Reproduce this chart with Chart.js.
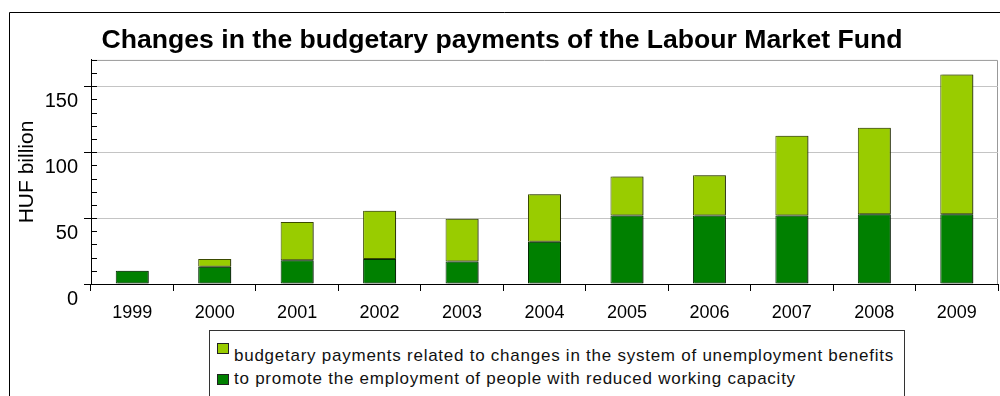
<!DOCTYPE html>
<html>
<head>
<meta charset="utf-8">
<title>Labour Market Fund</title>
<script src="https://cdn.jsdelivr.net/npm/chart.js@4/dist/chart.umd.min.js"></script>
<style>
  html, body { margin: 0; padding: 0; background: #fff; }
  #wrap { position: relative; width: 1000px; height: 396px; overflow: hidden; }
  #chart { position: absolute; left: 0; top: 0; }
  #legend {
    position: absolute; left: 209px; top: 330px; width: 694px; height: 120px;
    border: 1px solid #333; background: #fff;
    font-family: Arial, "Liberation Sans", sans-serif; font-size: 17px; letter-spacing: 0.75px; color: #111;
  }
  #legend .swatch { position: absolute; width: 10px; height: 9px; border: 1px solid #222; }
  #legend .label { position: absolute; left: 24px; white-space: nowrap; line-height: 17px; }
</style>
</head>
<body>
<div id="wrap">
  <canvas id="chart" width="1000" height="396"></canvas>
  <div id="legend"></div>
</div>
<script>
// ---- data -------------------------------------------------------------
const years = ['1999', '2000', '2001', '2002', '2003', '2004', '2005', '2006', '2007', '2008', '2009'];
// HUF billion
const reducedCapacity = [10, 13, 18, 19, 17, 32, 52, 52, 52, 53, 53];
const unemploymentBenefits = [0, 6, 29, 36.5, 32.5, 36, 29.5, 30.5, 60.5, 65.5, 106];
const yTickLabels = [0, 50, 100, 150];

const chartTitle = 'Changes in the budgetary payments of the Labour Market Fund';
const yAxisTitle = 'HUF billion';
const labelBenefits = 'budgetary payments related to changes in the system of unemployment benefits';
const labelCapacity = 'to promote the employment of people with reduced working capacity';

const FONT = 'Arial, "Liberation Sans", sans-serif';
const LIGHT = '#99cc00';
const DARK = '#008000';

// outer frame line (top + left) and plot box
const framePlugin = {
  id: 'frame',
  beforeDraw(chart) {
    const ctx = chart.ctx;
    ctx.save();
    ctx.strokeStyle = '#000';
    ctx.lineWidth = 1;
    ctx.beginPath();
    ctx.moveTo(9.5, 396);
    ctx.lineTo(9.5, 12.5);
    ctx.lineTo(1000, 12.5);
    ctx.stroke();
    const a = chart.chartArea;
    ctx.strokeStyle = '#999';
    ctx.beginPath();
    ctx.moveTo(a.left, a.top + 0.5);
    ctx.lineTo(a.right - 0.5, a.top + 0.5);
    ctx.lineTo(a.right - 0.5, a.bottom);
    ctx.stroke();
    ctx.restore();
  },
  // small inner ticks on the value axis, every 10
  afterDraw(chart) {
    const ctx = chart.ctx;
    const y = chart.scales.y;
    const left = chart.chartArea.left;
    ctx.save();
    ctx.strokeStyle = '#000';
    ctx.lineWidth = 1;
    ctx.beginPath();
    y.ticks.forEach(t => {
      const py = Math.round(y.getPixelForValue(t.value)) + 0.5;
      ctx.moveTo(left, py);
      ctx.lineTo(left + 6, py);
    });
    ctx.stroke();
    ctx.restore();
  }
};

// grey drop shadow to the right of the bars
const shadowPlugin = {
  id: 'barShadow',
  beforeDatasetsDraw(chart) {
    const ctx = chart.ctx;
    ctx.save();
    ctx.shadowColor = 'rgba(0,0,0,0.45)';
    ctx.shadowOffsetX = 2;
    ctx.shadowOffsetY = 0;
    ctx.shadowBlur = 0;
  },
  afterDatasetsDraw(chart) {
    chart.ctx.restore();
  }
};

const chart = new Chart(document.getElementById('chart'), {
  type: 'bar',
  data: {
    labels: years,
    datasets: [
      {
        label: labelCapacity,
        data: reducedCapacity,
        backgroundColor: DARK,
        borderColor: '#002a00',
        borderWidth: 1,
        borderSkipped: false
      },
      {
        label: labelBenefits,
        data: unemploymentBenefits,
        backgroundColor: LIGHT,
        borderColor: '#3a4a00',
        borderWidth: 1,
        borderSkipped: false
      }
    ]
  },
  options: {
    responsive: false,
    animation: false,
    devicePixelRatio: 1,
    layout: { padding: { left: 6, right: 2, top: 0, bottom: 0 } },
    datasets: { bar: { barPercentage: 0.4, categoryPercentage: 1 } },
    plugins: {
      legend: { display: false },
      tooltip: { enabled: false },
      title: {
        display: true,
        text: chartTitle,
        color: '#000',
        font: { family: FONT, size: 26.6, weight: 'bold' },
        padding: { top: 25, bottom: 3 }
      }
    },
    scales: {
      x: {
        stacked: true,
        grid: { display: true, drawOnChartArea: false, drawTicks: true, tickLength: 7, tickColor: '#000', offset: true },
        border: { display: true, color: '#000', width: 1 },
        ticks: { color: '#000', font: { family: FONT, size: 18 }, padding: 11, maxRotation: 0 },
        afterFit(scale) { scale.height = 112; }
      },
      y: {
        stacked: true,
        min: 0,
        max: 170,
        grid: {
          drawTicks: true,
          tickLength: 7,
          color: ctx => (yTickLabels.includes(ctx.tick.value) && ctx.tick.value > 0) ? '#c4c4c4' : 'rgba(0,0,0,0)',
          tickColor: ctx => yTickLabels.includes(ctx.tick.value) ? '#000' : 'rgba(0,0,0,0)'
        },
        border: { display: true, color: '#000', width: 1 },
        ticks: {
          stepSize: 10,
          autoSkip: false,
          color: '#000',
          font: { family: FONT, size: 20 },
          padding: 6,
          labelOffset: 15,
          callback: v => yTickLabels.includes(v) ? String(v) : ''
        },
        title: {
          display: true,
          text: yAxisTitle,
          color: '#000',
          font: { family: FONT, size: 21 },
          padding: { top: 9, bottom: 0 }
        },
        afterFit(scale) { scale.width = 85; }
      }
    }
  },
  plugins: [framePlugin, shadowPlugin]
});

// legend box, built from the datasets (benefits row first)
const legendEl = document.getElementById('legend');
const rows = [
  { ds: chart.data.datasets[1], swatchTop: 12, textTop: 16 },
  { ds: chart.data.datasets[0], swatchTop: 43, textTop: 39 }
];
rows.forEach(r => {
  const sw = document.createElement('div');
  sw.className = 'swatch';
  sw.style.left = '7px';
  sw.style.top = r.swatchTop + 'px';
  sw.style.background = r.ds.backgroundColor;
  legendEl.appendChild(sw);
  const tx = document.createElement('div');
  tx.className = 'label';
  tx.style.top = r.textTop + 'px';
  tx.textContent = r.ds.label;
  legendEl.appendChild(tx);
});
</script>
</body>
</html>
